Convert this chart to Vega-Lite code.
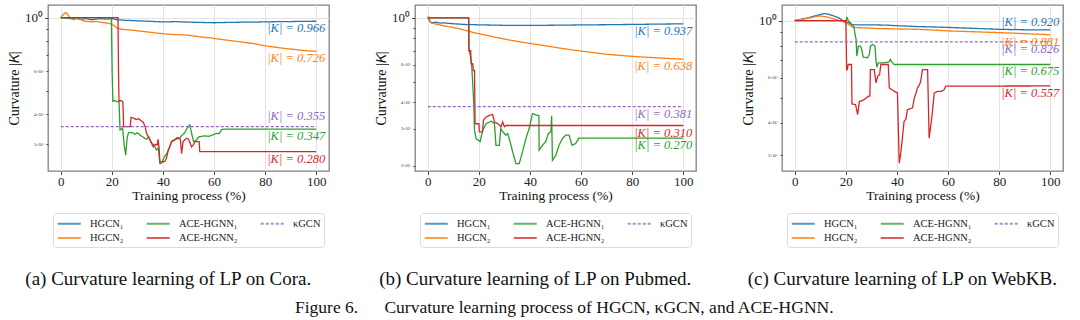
{
"$schema": "https://vega.github.io/schema/vega-lite/v6.json",
"padding": {"left": 6, "top": 4, "right": 4, "bottom": 2},
"background": "white",
"title": {"text": "Figure 6.\u2003\u2002Curvature learning process of HGCN, κGCN, and ACE-HGNN.", "orient": "bottom", "anchor": "middle", "dx": 29, "offset": 10, "fontSize": 17.5},
"datasets": {
"lines": [
{"g":"a","s":"HGCN₁","p":0,"k":1},{"g":"a","s":"HGCN₁","p":2,"k":0.995},{"g":"a","s":"HGCN₁","p":4,"k":0.99},{"g":"a","s":"HGCN₁","p":6,"k":0.995},{"g":"a","s":"HGCN₁","p":8,"k":0.985},{"g":"a","s":"HGCN₁","p":10,"k":0.99},{"g":"a","s":"HGCN₁","p":12,"k":0.98},{"g":"a","s":"HGCN₁","p":15,"k":0.99},{"g":"a","s":"HGCN₁","p":18,"k":0.985},{"g":"a","s":"HGCN₁","p":20,"k":0.99},{"g":"a","s":"HGCN₁","p":22,"k":0.98},{"g":"a","s":"HGCN₁","p":25,"k":0.975},{"g":"a","s":"HGCN₁","p":30,"k":0.97},{"g":"a","s":"HGCN₁","p":35,"k":0.965},{"g":"a","s":"HGCN₁","p":40,"k":0.96},{"g":"a","s":"HGCN₁","p":45,"k":0.962},{"g":"a","s":"HGCN₁","p":50,"k":0.958},{"g":"a","s":"HGCN₁","p":55,"k":0.955},{"g":"a","s":"HGCN₁","p":60,"k":0.952},{"g":"a","s":"HGCN₁","p":65,"k":0.955},{"g":"a","s":"HGCN₁","p":70,"k":0.957},{"g":"a","s":"HGCN₁","p":75,"k":0.958},{"g":"a","s":"HGCN₁","p":80,"k":0.96},{"g":"a","s":"HGCN₁","p":85,"k":0.962},{"g":"a","s":"HGCN₁","p":90,"k":0.963},{"g":"a","s":"HGCN₁","p":95,"k":0.965},{"g":"a","s":"HGCN₁","p":100,"k":0.966},
{"g":"a","s":"HGCN₂","p":0,"k":1},{"g":"a","s":"HGCN₂","p":1,"k":1.03},{"g":"a","s":"HGCN₂","p":2,"k":1.05},{"g":"a","s":"HGCN₂","p":3,"k":1.02},{"g":"a","s":"HGCN₂","p":4,"k":0.99},{"g":"a","s":"HGCN₂","p":5,"k":0.98},{"g":"a","s":"HGCN₂","p":6,"k":0.99},{"g":"a","s":"HGCN₂","p":7,"k":0.985},{"g":"a","s":"HGCN₂","p":8,"k":0.98},{"g":"a","s":"HGCN₂","p":9,"k":0.97},{"g":"a","s":"HGCN₂","p":10,"k":0.965},{"g":"a","s":"HGCN₂","p":12,"k":0.96},{"g":"a","s":"HGCN₂","p":14,"k":0.965},{"g":"a","s":"HGCN₂","p":16,"k":0.955},{"g":"a","s":"HGCN₂","p":18,"k":0.95},{"g":"a","s":"HGCN₂","p":20,"k":0.94},{"g":"a","s":"HGCN₂","p":21,"k":0.925},{"g":"a","s":"HGCN₂","p":22,"k":0.905},{"g":"a","s":"HGCN₂","p":24,"k":0.895},{"g":"a","s":"HGCN₂","p":26,"k":0.89},{"g":"a","s":"HGCN₂","p":28,"k":0.888},{"g":"a","s":"HGCN₂","p":30,"k":0.882},{"g":"a","s":"HGCN₂","p":32,"k":0.878},{"g":"a","s":"HGCN₂","p":34,"k":0.872},{"g":"a","s":"HGCN₂","p":36,"k":0.868},{"g":"a","s":"HGCN₂","p":38,"k":0.862},{"g":"a","s":"HGCN₂","p":40,"k":0.858},{"g":"a","s":"HGCN₂","p":42,"k":0.855},{"g":"a","s":"HGCN₂","p":44,"k":0.852},{"g":"a","s":"HGCN₂","p":46,"k":0.85},{"g":"a","s":"HGCN₂","p":48,"k":0.848},{"g":"a","s":"HGCN₂","p":50,"k":0.845},{"g":"a","s":"HGCN₂","p":52,"k":0.84},{"g":"a","s":"HGCN₂","p":54,"k":0.834},{"g":"a","s":"HGCN₂","p":56,"k":0.83},{"g":"a","s":"HGCN₂","p":58,"k":0.826},{"g":"a","s":"HGCN₂","p":60,"k":0.82},{"g":"a","s":"HGCN₂","p":62,"k":0.815},{"g":"a","s":"HGCN₂","p":64,"k":0.81},{"g":"a","s":"HGCN₂","p":66,"k":0.805},{"g":"a","s":"HGCN₂","p":68,"k":0.8},{"g":"a","s":"HGCN₂","p":70,"k":0.795},{"g":"a","s":"HGCN₂","p":72,"k":0.79},{"g":"a","s":"HGCN₂","p":74,"k":0.785},{"g":"a","s":"HGCN₂","p":76,"k":0.78},{"g":"a","s":"HGCN₂","p":78,"k":0.772},{"g":"a","s":"HGCN₂","p":80,"k":0.765},{"g":"a","s":"HGCN₂","p":82,"k":0.76},{"g":"a","s":"HGCN₂","p":84,"k":0.755},{"g":"a","s":"HGCN₂","p":86,"k":0.75},{"g":"a","s":"HGCN₂","p":88,"k":0.745},{"g":"a","s":"HGCN₂","p":90,"k":0.742},{"g":"a","s":"HGCN₂","p":92,"k":0.738},{"g":"a","s":"HGCN₂","p":94,"k":0.734},{"g":"a","s":"HGCN₂","p":96,"k":0.73},{"g":"a","s":"HGCN₂","p":98,"k":0.728},{"g":"a","s":"HGCN₂","p":100,"k":0.726},
{"g":"a","s":"ACE-HGNN₁","p":0,"k":1},{"g":"a","s":"ACE-HGNN₁","p":19.8,"k":1},{"g":"a","s":"ACE-HGNN₁","p":20.1,"k":0.6},{"g":"a","s":"ACE-HGNN₁","p":20.4,"k":0.452},{"g":"a","s":"ACE-HGNN₁","p":21,"k":0.455},{"g":"a","s":"ACE-HGNN₁","p":22,"k":0.45},{"g":"a","s":"ACE-HGNN₁","p":22.8,"k":0.452},{"g":"a","s":"ACE-HGNN₁","p":23.2,"k":0.344},{"g":"a","s":"ACE-HGNN₁","p":24.2,"k":0.35},{"g":"a","s":"ACE-HGNN₁","p":24.8,"k":0.3},{"g":"a","s":"ACE-HGNN₁","p":25.4,"k":0.271},{"g":"a","s":"ACE-HGNN₁","p":26,"k":0.32},{"g":"a","s":"ACE-HGNN₁","p":26.5,"k":0.335},{"g":"a","s":"ACE-HGNN₁","p":28,"k":0.336},{"g":"a","s":"ACE-HGNN₁","p":29,"k":0.33},{"g":"a","s":"ACE-HGNN₁","p":30,"k":0.335},{"g":"a","s":"ACE-HGNN₁","p":31.5,"k":0.325},{"g":"a","s":"ACE-HGNN₁","p":32.5,"k":0.32},{"g":"a","s":"ACE-HGNN₁","p":33.5,"k":0.315},{"g":"a","s":"ACE-HGNN₁","p":34.5,"k":0.322},{"g":"a","s":"ACE-HGNN₁","p":35.5,"k":0.305},{"g":"a","s":"ACE-HGNN₁","p":36.5,"k":0.298},{"g":"a","s":"ACE-HGNN₁","p":37.5,"k":0.284},{"g":"a","s":"ACE-HGNN₁","p":38.2,"k":0.29},{"g":"a","s":"ACE-HGNN₁","p":38.8,"k":0.25},{"g":"a","s":"ACE-HGNN₁","p":39.6,"k":0.252},{"g":"a","s":"ACE-HGNN₁","p":40.4,"k":0.265},{"g":"a","s":"ACE-HGNN₁","p":41.5,"k":0.275},{"g":"a","s":"ACE-HGNN₁","p":42.5,"k":0.29},{"g":"a","s":"ACE-HGNN₁","p":43.5,"k":0.31},{"g":"a","s":"ACE-HGNN₁","p":44.5,"k":0.313},{"g":"a","s":"ACE-HGNN₁","p":45.5,"k":0.32},{"g":"a","s":"ACE-HGNN₁","p":46.5,"k":0.319},{"g":"a","s":"ACE-HGNN₁","p":47.5,"k":0.327},{"g":"a","s":"ACE-HGNN₁","p":48.5,"k":0.335},{"g":"a","s":"ACE-HGNN₁","p":49.5,"k":0.35},{"g":"a","s":"ACE-HGNN₁","p":50.5,"k":0.361},{"g":"a","s":"ACE-HGNN₁","p":51.3,"k":0.33},{"g":"a","s":"ACE-HGNN₁","p":52,"k":0.308},{"g":"a","s":"ACE-HGNN₁","p":53,"k":0.312},{"g":"a","s":"ACE-HGNN₁","p":54,"k":0.322},{"g":"a","s":"ACE-HGNN₁","p":56,"k":0.325},{"g":"a","s":"ACE-HGNN₁","p":58,"k":0.324},{"g":"a","s":"ACE-HGNN₁","p":60,"k":0.33},{"g":"a","s":"ACE-HGNN₁","p":61,"k":0.333},{"g":"a","s":"ACE-HGNN₁","p":62,"k":0.332},{"g":"a","s":"ACE-HGNN₁","p":63,"k":0.345},{"g":"a","s":"ACE-HGNN₁","p":64,"k":0.347},{"g":"a","s":"ACE-HGNN₁","p":100,"k":0.347},
{"g":"a","s":"ACE-HGNN₂","p":0,"k":1},{"g":"a","s":"ACE-HGNN₂","p":22.4,"k":1},{"g":"a","s":"ACE-HGNN₂","p":22.6,"k":0.6},{"g":"a","s":"ACE-HGNN₂","p":22.8,"k":0.452},{"g":"a","s":"ACE-HGNN₂","p":23.6,"k":0.455},{"g":"a","s":"ACE-HGNN₂","p":24.3,"k":0.45},{"g":"a","s":"ACE-HGNN₂","p":24.6,"k":0.355},{"g":"a","s":"ACE-HGNN₂","p":27.2,"k":0.355},{"g":"a","s":"ACE-HGNN₂","p":27.5,"k":0.388},{"g":"a","s":"ACE-HGNN₂","p":28.5,"k":0.385},{"g":"a","s":"ACE-HGNN₂","p":29.5,"k":0.38},{"g":"a","s":"ACE-HGNN₂","p":30.5,"k":0.383},{"g":"a","s":"ACE-HGNN₂","p":31.5,"k":0.375},{"g":"a","s":"ACE-HGNN₂","p":32.3,"k":0.37},{"g":"a","s":"ACE-HGNN₂","p":33,"k":0.355},{"g":"a","s":"ACE-HGNN₂","p":33.6,"k":0.333},{"g":"a","s":"ACE-HGNN₂","p":34.9,"k":0.313},{"g":"a","s":"ACE-HGNN₂","p":36.2,"k":0.293},{"g":"a","s":"ACE-HGNN₂","p":37,"k":0.3},{"g":"a","s":"ACE-HGNN₂","p":37.8,"k":0.298},{"g":"a","s":"ACE-HGNN₂","p":38.1,"k":0.315},{"g":"a","s":"ACE-HGNN₂","p":38.5,"k":0.29},{"g":"a","s":"ACE-HGNN₂","p":38.8,"k":0.254},{"g":"a","s":"ACE-HGNN₂","p":40.7,"k":0.255},{"g":"a","s":"ACE-HGNN₂","p":41.3,"k":0.262},{"g":"a","s":"ACE-HGNN₂","p":42.1,"k":0.284},{"g":"a","s":"ACE-HGNN₂","p":43,"k":0.3},{"g":"a","s":"ACE-HGNN₂","p":43.4,"k":0.308},{"g":"a","s":"ACE-HGNN₂","p":44.6,"k":0.313},{"g":"a","s":"ACE-HGNN₂","p":46,"k":0.318},{"g":"a","s":"ACE-HGNN₂","p":46.8,"k":0.315},{"g":"a","s":"ACE-HGNN₂","p":47.3,"k":0.275},{"g":"a","s":"ACE-HGNN₂","p":47.9,"k":0.308},{"g":"a","s":"ACE-HGNN₂","p":49.2,"k":0.318},{"g":"a","s":"ACE-HGNN₂","p":50,"k":0.315},{"g":"a","s":"ACE-HGNN₂","p":51.2,"k":0.293},{"g":"a","s":"ACE-HGNN₂","p":52,"k":0.3},{"g":"a","s":"ACE-HGNN₂","p":52.5,"k":0.308},{"g":"a","s":"ACE-HGNN₂","p":54.2,"k":0.308},{"g":"a","s":"ACE-HGNN₂","p":54.4,"k":0.28},{"g":"a","s":"ACE-HGNN₂","p":100,"k":0.28},
{"g":"a","s":"κGCN","p":0,"k":0.355},{"g":"a","s":"κGCN","p":100,"k":0.355},
{"g":"b","s":"HGCN₁","p":0,"k":1},{"g":"b","s":"HGCN₁","p":0.5,"k":0.98},{"g":"b","s":"HGCN₁","p":1,"k":0.955},{"g":"b","s":"HGCN₁","p":1.5,"k":0.945},{"g":"b","s":"HGCN₁","p":2,"k":0.952},{"g":"b","s":"HGCN₁","p":2.5,"k":0.948},{"g":"b","s":"HGCN₁","p":3,"k":0.955},{"g":"b","s":"HGCN₁","p":4,"k":0.948},{"g":"b","s":"HGCN₁","p":5,"k":0.945},{"g":"b","s":"HGCN₁","p":6,"k":0.947},{"g":"b","s":"HGCN₁","p":8,"k":0.942},{"g":"b","s":"HGCN₁","p":10,"k":0.938},{"g":"b","s":"HGCN₁","p":15,"k":0.93},{"g":"b","s":"HGCN₁","p":20,"k":0.927},{"g":"b","s":"HGCN₁","p":30,"k":0.922},{"g":"b","s":"HGCN₁","p":40,"k":0.921},{"g":"b","s":"HGCN₁","p":50,"k":0.923},{"g":"b","s":"HGCN₁","p":60,"k":0.926},{"g":"b","s":"HGCN₁","p":70,"k":0.928},{"g":"b","s":"HGCN₁","p":80,"k":0.931},{"g":"b","s":"HGCN₁","p":90,"k":0.934},{"g":"b","s":"HGCN₁","p":100,"k":0.937},
{"g":"b","s":"HGCN₂","p":0,"k":1.02},{"g":"b","s":"HGCN₂","p":0.5,"k":1},{"g":"b","s":"HGCN₂","p":1,"k":0.96},{"g":"b","s":"HGCN₂","p":1.5,"k":0.95},{"g":"b","s":"HGCN₂","p":2,"k":0.94},{"g":"b","s":"HGCN₂","p":2.5,"k":0.945},{"g":"b","s":"HGCN₂","p":3,"k":0.935},{"g":"b","s":"HGCN₂","p":4,"k":0.93},{"g":"b","s":"HGCN₂","p":5,"k":0.925},{"g":"b","s":"HGCN₂","p":6,"k":0.918},{"g":"b","s":"HGCN₂","p":8,"k":0.91},{"g":"b","s":"HGCN₂","p":10,"k":0.9},{"g":"b","s":"HGCN₂","p":12,"k":0.89},{"g":"b","s":"HGCN₂","p":14,"k":0.878},{"g":"b","s":"HGCN₂","p":16,"k":0.865},{"g":"b","s":"HGCN₂","p":18,"k":0.852},{"g":"b","s":"HGCN₂","p":20,"k":0.842},{"g":"b","s":"HGCN₂","p":22,"k":0.832},{"g":"b","s":"HGCN₂","p":24,"k":0.822},{"g":"b","s":"HGCN₂","p":26,"k":0.812},{"g":"b","s":"HGCN₂","p":28,"k":0.803},{"g":"b","s":"HGCN₂","p":30,"k":0.794},{"g":"b","s":"HGCN₂","p":32,"k":0.785},{"g":"b","s":"HGCN₂","p":35,"k":0.774},{"g":"b","s":"HGCN₂","p":38,"k":0.764},{"g":"b","s":"HGCN₂","p":41,"k":0.754},{"g":"b","s":"HGCN₂","p":44,"k":0.745},{"g":"b","s":"HGCN₂","p":47,"k":0.735},{"g":"b","s":"HGCN₂","p":50,"k":0.725},{"g":"b","s":"HGCN₂","p":53,"k":0.716},{"g":"b","s":"HGCN₂","p":56,"k":0.707},{"g":"b","s":"HGCN₂","p":60,"k":0.697},{"g":"b","s":"HGCN₂","p":65,"k":0.685},{"g":"b","s":"HGCN₂","p":70,"k":0.673},{"g":"b","s":"HGCN₂","p":75,"k":0.665},{"g":"b","s":"HGCN₂","p":80,"k":0.658},{"g":"b","s":"HGCN₂","p":85,"k":0.652},{"g":"b","s":"HGCN₂","p":90,"k":0.647},{"g":"b","s":"HGCN₂","p":95,"k":0.642},{"g":"b","s":"HGCN₂","p":100,"k":0.638},
{"g":"b","s":"ACE-HGNN₁","p":0,"k":1},{"g":"b","s":"ACE-HGNN₁","p":16,"k":1},{"g":"b","s":"ACE-HGNN₁","p":16.2,"k":0.7},{"g":"b","s":"ACE-HGNN₁","p":16.8,"k":0.65},{"g":"b","s":"ACE-HGNN₁","p":17.2,"k":0.595},{"g":"b","s":"ACE-HGNN₁","p":17.6,"k":0.488},{"g":"b","s":"ACE-HGNN₁","p":18,"k":0.393},{"g":"b","s":"ACE-HGNN₁","p":18.3,"k":0.294},{"g":"b","s":"ACE-HGNN₁","p":18.9,"k":0.269},{"g":"b","s":"ACE-HGNN₁","p":20.5,"k":0.26},{"g":"b","s":"ACE-HGNN₁","p":21.5,"k":0.294},{"g":"b","s":"ACE-HGNN₁","p":22.8,"k":0.316},{"g":"b","s":"ACE-HGNN₁","p":24.8,"k":0.325},{"g":"b","s":"ACE-HGNN₁","p":26.1,"k":0.316},{"g":"b","s":"ACE-HGNN₁","p":26.7,"k":0.25},{"g":"b","s":"ACE-HGNN₁","p":28,"k":0.25},{"g":"b","s":"ACE-HGNN₁","p":28.6,"k":0.3},{"g":"b","s":"ACE-HGNN₁","p":29.3,"k":0.29},{"g":"b","s":"ACE-HGNN₁","p":30.6,"k":0.279},{"g":"b","s":"ACE-HGNN₁","p":31.3,"k":0.284},{"g":"b","s":"ACE-HGNN₁","p":32.6,"k":0.25},{"g":"b","s":"ACE-HGNN₁","p":33.2,"k":0.233},{"g":"b","s":"ACE-HGNN₁","p":34.5,"k":0.205},{"g":"b","s":"ACE-HGNN₁","p":35.8,"k":0.205},{"g":"b","s":"ACE-HGNN₁","p":37.1,"k":0.233},{"g":"b","s":"ACE-HGNN₁","p":38.4,"k":0.269},{"g":"b","s":"ACE-HGNN₁","p":39.7,"k":0.3},{"g":"b","s":"ACE-HGNN₁","p":41,"k":0.353},{"g":"b","s":"ACE-HGNN₁","p":42.9,"k":0.346},{"g":"b","s":"ACE-HGNN₁","p":43.5,"k":0.346},{"g":"b","s":"ACE-HGNN₁","p":43.6,"k":0.237},{"g":"b","s":"ACE-HGNN₁","p":44.9,"k":0.25},{"g":"b","s":"ACE-HGNN₁","p":46.2,"k":0.26},{"g":"b","s":"ACE-HGNN₁","p":47.2,"k":0.284},{"g":"b","s":"ACE-HGNN₁","p":48.2,"k":0.29},{"g":"b","s":"ACE-HGNN₁","p":48.5,"k":0.345},{"g":"b","s":"ACE-HGNN₁","p":48.8,"k":0.212},{"g":"b","s":"ACE-HGNN₁","p":50.1,"k":0.224},{"g":"b","s":"ACE-HGNN₁","p":51.4,"k":0.25},{"g":"b","s":"ACE-HGNN₁","p":52.7,"k":0.269},{"g":"b","s":"ACE-HGNN₁","p":54,"k":0.279},{"g":"b","s":"ACE-HGNN₁","p":55.3,"k":0.279},{"g":"b","s":"ACE-HGNN₁","p":56.5,"k":0.25},{"g":"b","s":"ACE-HGNN₁","p":57.9,"k":0.255},{"g":"b","s":"ACE-HGNN₁","p":59.1,"k":0.27},{"g":"b","s":"ACE-HGNN₁","p":100,"k":0.27},
{"g":"b","s":"ACE-HGNN₂","p":0,"k":1},{"g":"b","s":"ACE-HGNN₂","p":16,"k":1},{"g":"b","s":"ACE-HGNN₂","p":16.1,"k":0.7},{"g":"b","s":"ACE-HGNN₂","p":16.8,"k":0.7},{"g":"b","s":"ACE-HGNN₂","p":17,"k":0.607},{"g":"b","s":"ACE-HGNN₂","p":17.6,"k":0.607},{"g":"b","s":"ACE-HGNN₂","p":17.8,"k":0.564},{"g":"b","s":"ACE-HGNN₂","p":18.3,"k":0.564},{"g":"b","s":"ACE-HGNN₂","p":18.5,"k":0.316},{"g":"b","s":"ACE-HGNN₂","p":20,"k":0.316},{"g":"b","s":"ACE-HGNN₂","p":20.2,"k":0.289},{"g":"b","s":"ACE-HGNN₂","p":21.4,"k":0.289},{"g":"b","s":"ACE-HGNN₂","p":21.8,"k":0.328},{"g":"b","s":"ACE-HGNN₂","p":22.8,"k":0.34},{"g":"b","s":"ACE-HGNN₂","p":24.1,"k":0.346},{"g":"b","s":"ACE-HGNN₂","p":25.4,"k":0.349},{"g":"b","s":"ACE-HGNN₂","p":26.1,"k":0.322},{"g":"b","s":"ACE-HGNN₂","p":27.4,"k":0.316},{"g":"b","s":"ACE-HGNN₂","p":28.7,"k":0.306},{"g":"b","s":"ACE-HGNN₂","p":29.3,"k":0.322},{"g":"b","s":"ACE-HGNN₂","p":30,"k":0.306},{"g":"b","s":"ACE-HGNN₂","p":30.6,"k":0.31},{"g":"b","s":"ACE-HGNN₂","p":100,"k":0.31},
{"g":"b","s":"κGCN","p":0,"k":0.381},{"g":"b","s":"κGCN","p":100,"k":0.381},
{"g":"c","s":"HGCN₁","p":0,"k":1},{"g":"c","s":"HGCN₁","p":3,"k":1.015},{"g":"c","s":"HGCN₁","p":6,"k":1.03},{"g":"c","s":"HGCN₁","p":9,"k":1.05},{"g":"c","s":"HGCN₁","p":11.5,"k":1.065},{"g":"c","s":"HGCN₁","p":13,"k":1.06},{"g":"c","s":"HGCN₁","p":15,"k":1.045},{"g":"c","s":"HGCN₁","p":17,"k":1.027},{"g":"c","s":"HGCN₁","p":19,"k":1},{"g":"c","s":"HGCN₁","p":21,"k":0.982},{"g":"c","s":"HGCN₁","p":22.5,"k":0.965},{"g":"c","s":"HGCN₁","p":24,"k":0.962},{"g":"c","s":"HGCN₁","p":28,"k":0.962},{"g":"c","s":"HGCN₁","p":32,"k":0.962},{"g":"c","s":"HGCN₁","p":36,"k":0.96},{"g":"c","s":"HGCN₁","p":40,"k":0.955},{"g":"c","s":"HGCN₁","p":44,"k":0.952},{"g":"c","s":"HGCN₁","p":48,"k":0.948},{"g":"c","s":"HGCN₁","p":55,"k":0.944},{"g":"c","s":"HGCN₁","p":61,"k":0.94},{"g":"c","s":"HGCN₁","p":70,"k":0.933},{"g":"c","s":"HGCN₁","p":80,"k":0.925},{"g":"c","s":"HGCN₁","p":90,"k":0.921},{"g":"c","s":"HGCN₁","p":100,"k":0.92},
{"g":"c","s":"HGCN₂","p":0,"k":1},{"g":"c","s":"HGCN₂","p":3,"k":1.012},{"g":"c","s":"HGCN₂","p":6,"k":1.025},{"g":"c","s":"HGCN₂","p":9.5,"k":1.043},{"g":"c","s":"HGCN₂","p":12,"k":1.035},{"g":"c","s":"HGCN₂","p":15,"k":1.018},{"g":"c","s":"HGCN₂","p":18,"k":0.997},{"g":"c","s":"HGCN₂","p":20,"k":0.98},{"g":"c","s":"HGCN₂","p":21,"k":0.968},{"g":"c","s":"HGCN₂","p":22.5,"k":0.945},{"g":"c","s":"HGCN₂","p":24,"k":0.939},{"g":"c","s":"HGCN₂","p":28,"k":0.936},{"g":"c","s":"HGCN₂","p":32,"k":0.932},{"g":"c","s":"HGCN₂","p":40,"k":0.928},{"g":"c","s":"HGCN₂","p":48,"k":0.925},{"g":"c","s":"HGCN₂","p":55,"k":0.918},{"g":"c","s":"HGCN₂","p":61,"k":0.911},{"g":"c","s":"HGCN₂","p":70,"k":0.905},{"g":"c","s":"HGCN₂","p":80,"k":0.898},{"g":"c","s":"HGCN₂","p":90,"k":0.89},{"g":"c","s":"HGCN₂","p":100,"k":0.881},
{"g":"c","s":"ACE-HGNN₁","p":0,"k":1},{"g":"c","s":"ACE-HGNN₁","p":20.2,"k":1},{"g":"c","s":"ACE-HGNN₁","p":20.4,"k":1.034},{"g":"c","s":"ACE-HGNN₁","p":21,"k":0.997},{"g":"c","s":"ACE-HGNN₁","p":21.7,"k":0.982},{"g":"c","s":"ACE-HGNN₁","p":22.7,"k":0.953},{"g":"c","s":"ACE-HGNN₁","p":23.2,"k":0.939},{"g":"c","s":"ACE-HGNN₁","p":23.6,"k":0.884},{"g":"c","s":"ACE-HGNN₁","p":24,"k":0.845},{"g":"c","s":"ACE-HGNN₁","p":24.3,"k":0.728},{"g":"c","s":"ACE-HGNN₁","p":24.9,"k":0.796},{"g":"c","s":"ACE-HGNN₁","p":25.7,"k":0.796},{"g":"c","s":"ACE-HGNN₁","p":26.2,"k":0.773},{"g":"c","s":"ACE-HGNN₁","p":26.8,"k":0.721},{"g":"c","s":"ACE-HGNN₁","p":28.5,"k":0.717},{"g":"c","s":"ACE-HGNN₁","p":29.2,"k":0.739},{"g":"c","s":"ACE-HGNN₁","p":29.6,"k":0.796},{"g":"c","s":"ACE-HGNN₁","p":30.5,"k":0.808},{"g":"c","s":"ACE-HGNN₁","p":31.4,"k":0.796},{"g":"c","s":"ACE-HGNN₁","p":31.8,"k":0.696},{"g":"c","s":"ACE-HGNN₁","p":32.2,"k":0.659},{"g":"c","s":"ACE-HGNN₁","p":32.7,"k":0.685},{"g":"c","s":"ACE-HGNN₁","p":35,"k":0.685},{"g":"c","s":"ACE-HGNN₁","p":37,"k":0.692},{"g":"c","s":"ACE-HGNN₁","p":37.4,"k":0.706},{"g":"c","s":"ACE-HGNN₁","p":37.9,"k":0.692},{"g":"c","s":"ACE-HGNN₁","p":38.9,"k":0.675},{"g":"c","s":"ACE-HGNN₁","p":100,"k":0.675},
{"g":"c","s":"ACE-HGNN₂","p":0,"k":1},{"g":"c","s":"ACE-HGNN₂","p":20,"k":1},{"g":"c","s":"ACE-HGNN₂","p":20.3,"k":0.645},{"g":"c","s":"ACE-HGNN₂","p":20.6,"k":0.645},{"g":"c","s":"ACE-HGNN₂","p":20.9,"k":0.675},{"g":"c","s":"ACE-HGNN₂","p":22.2,"k":0.675},{"g":"c","s":"ACE-HGNN₂","p":22.4,"k":0.474},{"g":"c","s":"ACE-HGNN₂","p":23.8,"k":0.471},{"g":"c","s":"ACE-HGNN₂","p":24.6,"k":0.431},{"g":"c","s":"ACE-HGNN₂","p":25.3,"k":0.486},{"g":"c","s":"ACE-HGNN₂","p":26,"k":0.486},{"g":"c","s":"ACE-HGNN₂","p":27.2,"k":0.493},{"g":"c","s":"ACE-HGNN₂","p":28.8,"k":0.508},{"g":"c","s":"ACE-HGNN₂","p":29.4,"k":0.508},{"g":"c","s":"ACE-HGNN₂","p":29.6,"k":0.645},{"g":"c","s":"ACE-HGNN₂","p":31.1,"k":0.645},{"g":"c","s":"ACE-HGNN₂","p":31.8,"k":0.573},{"g":"c","s":"ACE-HGNN₂","p":32.5,"k":0.608},{"g":"c","s":"ACE-HGNN₂","p":33.2,"k":0.617},{"g":"c","s":"ACE-HGNN₂","p":33.7,"k":0.675},{"g":"c","s":"ACE-HGNN₂","p":36.6,"k":0.675},{"g":"c","s":"ACE-HGNN₂","p":37,"k":0.547},{"g":"c","s":"ACE-HGNN₂","p":38,"k":0.539},{"g":"c","s":"ACE-HGNN₂","p":39,"k":0.531},{"g":"c","s":"ACE-HGNN₂","p":40.2,"k":0.523},{"g":"c","s":"ACE-HGNN₂","p":40.9,"k":0.279},{"g":"c","s":"ACE-HGNN₂","p":41.5,"k":0.305},{"g":"c","s":"ACE-HGNN₂","p":42.8,"k":0.406},{"g":"c","s":"ACE-HGNN₂","p":43.5,"k":0.413},{"g":"c","s":"ACE-HGNN₂","p":44.1,"k":0.45},{"g":"c","s":"ACE-HGNN₂","p":46.1,"k":0.458},{"g":"c","s":"ACE-HGNN₂","p":46.8,"k":0.5},{"g":"c","s":"ACE-HGNN₂","p":47.5,"k":0.523},{"g":"c","s":"ACE-HGNN₂","p":48,"k":0.547},{"g":"c","s":"ACE-HGNN₂","p":48.5,"k":0.556},{"g":"c","s":"ACE-HGNN₂","p":49.2,"k":0.575},{"g":"c","s":"ACE-HGNN₂","p":50,"k":0.645},{"g":"c","s":"ACE-HGNN₂","p":52,"k":0.645},{"g":"c","s":"ACE-HGNN₂","p":52.6,"k":0.349},{"g":"c","s":"ACE-HGNN₂","p":53.3,"k":0.394},{"g":"c","s":"ACE-HGNN₂","p":53.9,"k":0.443},{"g":"c","s":"ACE-HGNN₂","p":54.6,"k":0.523},{"g":"c","s":"ACE-HGNN₂","p":56,"k":0.531},{"g":"c","s":"ACE-HGNN₂","p":57.5,"k":0.531},{"g":"c","s":"ACE-HGNN₂","p":58.5,"k":0.539},{"g":"c","s":"ACE-HGNN₂","p":59.1,"k":0.556},{"g":"c","s":"ACE-HGNN₂","p":100,"k":0.557},
{"g":"c","s":"κGCN","p":0,"k":0.826},{"g":"c","s":"κGCN","p":100,"k":0.826}
],
"ann": [
{"g":"a","s":"HGCN₁","k":0.966,"t":"|K| = 0.966"},{"g":"a","s":"HGCN₂","k":0.726,"t":"|K| = 0.726"},{"g":"a","s":"κGCN","k":0.355,"t":"|K| = 0.355"},{"g":"a","s":"ACE-HGNN₁","k":0.347,"t":"|K| = 0.347"},{"g":"a","s":"ACE-HGNN₂","k":0.28,"t":"|K| = 0.280"},
{"g":"b","s":"HGCN₁","k":0.937,"t":"|K| = 0.937"},{"g":"b","s":"HGCN₂","k":0.638,"t":"|K| = 0.638"},{"g":"b","s":"κGCN","k":0.381,"t":"|K| = 0.381"},{"g":"b","s":"ACE-HGNN₂","k":0.31,"t":"|K| = 0.310"},{"g":"b","s":"ACE-HGNN₁","k":0.27,"t":"|K| = 0.270"},
{"g":"c","s":"HGCN₁","k":0.92,"t":"|K| = 0.920"},{"g":"c","s":"HGCN₂","k":0.881,"t":"|K| = 0.881"},{"g":"c","s":"κGCN","k":0.826,"t":"|K| = 0.826"},{"g":"c","s":"ACE-HGNN₁","k":0.675,"t":"|K| = 0.675"},{"g":"c","s":"ACE-HGNN₂","k":0.557,"t":"|K| = 0.557"}
]
},
"bounds": "flush",
"spacing": 86,
"hconcat": [
{
"width": 281, "height": 166,
"title": {"text": "(a) Curvature learning of LP on Cora.", "orient": "bottom", "anchor": "middle", "frame": "bounds", "offset": 22},
"layer": [
{"data": {"name": "lines"}, "transform": [{"filter": "datum.g == 'a'"}],
 "mark": {"type": "line", "strokeWidth": 1.3, "clip": true},
 "encoding": {
  "x": {"field": "p", "type": "quantitative", "scale": {"domain": [-5, 105], "nice": false, "zero": false}, "axis": {"values": [0,20,40,60,80,100], "title": "Training process (%)"}},
  "y": {"field": "k", "type": "quantitative", "scale": {"type": "log", "domain": [0.233, 1.127], "nice": false}, "axis": {"values": [0.3,0.4,0.5,0.6,0.7,0.8,0.9,1], "labelExpr": "datum.value == 1 ? '10⁰' : (indexof([0.3,0.4,0.6], datum.value) >= 0 ? round(datum.value*10) + '×10⁻¹' : '')", "labelFontSize": {"condition": {"test": "datum.value == 1", "value": 13}, "value": 4}, "tickSize": {"condition": {"test": "datum.value == 1", "value": 3.5}, "value": 2}, "gridOpacity": {"condition": {"test": "datum.value == 1", "value": 1}, "value": 0}, "title": "Curvature |𝐾|"}},
  "color": {"field": "s", "type": "nominal", "scale": {"domain": ["HGCN₁","ACE-HGNN₁","κGCN","HGCN₂","ACE-HGNN₂"], "range": ["#1f77b4","#2ca02c","#9467bd","#ff7f0e","#d62728"]}, "legend": {"title": null}},
  "strokeDash": {"field": "s", "type": "nominal", "scale": {"domain": ["HGCN₁","ACE-HGNN₁","κGCN","HGCN₂","ACE-HGNN₂"], "range": [[1,0],[1,0],[3,2],[1,0],[1,0]]}, "legend": {"title": null}}
 }},
{"data": {"name": "ann"}, "transform": [{"filter": "datum.g == 'a' && datum.s != 'κGCN'"}],
 "mark": {"type": "text", "align": "left", "baseline": "middle", "dx": 2, "dy": 7, "font": "Liberation Serif", "fontStyle": "italic", "fontSize": 12.5},
 "encoding": {"x": {"datum": 80, "type": "quantitative"}, "y": {"field": "k", "type": "quantitative"}, "text": {"field": "t"}, "color": {"field": "s", "type": "nominal"}}},
{"data": {"name": "ann"}, "transform": [{"filter": "datum.g == 'a' && datum.s == 'κGCN'"}],
 "mark": {"type": "text", "align": "left", "baseline": "middle", "dx": 2, "dy": -11, "font": "Liberation Serif", "fontStyle": "italic", "fontSize": 12.5},
 "encoding": {"x": {"datum": 80, "type": "quantitative"}, "y": {"field": "k", "type": "quantitative"}, "text": {"field": "t"}, "color": {"field": "s", "type": "nominal"}}}
]
},
{
"width": 281, "height": 166,
"title": {"text": "(b) Curvature learning of LP on Pubmed.", "orient": "bottom", "anchor": "middle", "frame": "bounds", "offset": 22},
"layer": [
{"data": {"name": "lines"}, "transform": [{"filter": "datum.g == 'b'"}],
 "mark": {"type": "line", "strokeWidth": 1.3, "clip": true},
 "encoding": {
  "x": {"field": "p", "type": "quantitative", "scale": {"domain": [-5, 105], "nice": false, "zero": false}, "axis": {"values": [0,20,40,60,80,100], "title": "Training process (%)"}},
  "y": {"field": "k", "type": "quantitative", "scale": {"type": "log", "domain": [0.189, 1.15], "nice": false}, "axis": {"values": [0.2,0.3,0.4,0.5,0.6,0.7,0.8,0.9,1], "labelExpr": "datum.value == 1 ? '10⁰' : (indexof([0.2,0.3,0.4,0.6], datum.value) >= 0 ? round(datum.value*10) + '×10⁻¹' : '')", "labelFontSize": {"condition": {"test": "datum.value == 1", "value": 13}, "value": 4}, "tickSize": {"condition": {"test": "datum.value == 1", "value": 3.5}, "value": 2}, "gridOpacity": {"condition": {"test": "datum.value == 1", "value": 1}, "value": 0}, "title": "Curvature |𝐾|"}},
  "color": {"field": "s", "type": "nominal", "scale": {"domain": ["HGCN₁","ACE-HGNN₁","κGCN","HGCN₂","ACE-HGNN₂"], "range": ["#1f77b4","#2ca02c","#9467bd","#ff7f0e","#d62728"]}, "legend": {"title": null}},
  "strokeDash": {"field": "s", "type": "nominal", "scale": {"domain": ["HGCN₁","ACE-HGNN₁","κGCN","HGCN₂","ACE-HGNN₂"], "range": [[1,0],[1,0],[3,2],[1,0],[1,0]]}, "legend": {"title": null}}
 }},
{"data": {"name": "ann"}, "transform": [{"filter": "datum.g == 'b'"}],
 "mark": {"type": "text", "align": "left", "baseline": "middle", "dx": 2, "dy": 7, "font": "Liberation Serif", "fontStyle": "italic", "fontSize": 12.5},
 "encoding": {"x": {"datum": 80, "type": "quantitative"}, "y": {"field": "k", "type": "quantitative"}, "text": {"field": "t"}, "color": {"field": "s", "type": "nominal"}}}
]
},
{
"width": 281, "height": 166,
"title": {"text": "(c) Curvature learning of LP on WebKB.", "orient": "bottom", "anchor": "middle", "frame": "bounds", "offset": 22},
"layer": [
{"data": {"name": "lines"}, "transform": [{"filter": "datum.g == 'c'"}],
 "mark": {"type": "line", "strokeWidth": 1.3, "clip": true},
 "encoding": {
  "x": {"field": "p", "type": "quantitative", "scale": {"domain": [-5, 105], "nice": false, "zero": false}, "axis": {"values": [0,20,40,60,80,100], "title": "Training process (%)"}},
  "y": {"field": "k", "type": "quantitative", "scale": {"type": "log", "domain": [0.26, 1.15], "nice": false}, "axis": {"values": [0.3,0.4,0.5,0.6,0.7,0.8,0.9,1], "labelExpr": "datum.value == 1 ? '10⁰' : (indexof([0.3,0.4,0.6], datum.value) >= 0 ? round(datum.value*10) + '×10⁻¹' : '')", "labelFontSize": {"condition": {"test": "datum.value == 1", "value": 13}, "value": 4}, "tickSize": {"condition": {"test": "datum.value == 1", "value": 3.5}, "value": 2}, "gridOpacity": {"condition": {"test": "datum.value == 1", "value": 1}, "value": 0}, "title": "Curvature |𝐾|"}},
  "color": {"field": "s", "type": "nominal", "scale": {"domain": ["HGCN₁","ACE-HGNN₁","κGCN","HGCN₂","ACE-HGNN₂"], "range": ["#1f77b4","#2ca02c","#9467bd","#ff7f0e","#d62728"]}, "legend": {"title": null}},
  "strokeDash": {"field": "s", "type": "nominal", "scale": {"domain": ["HGCN₁","ACE-HGNN₁","κGCN","HGCN₂","ACE-HGNN₂"], "range": [[1,0],[1,0],[3,2],[1,0],[1,0]]}, "legend": {"title": null}}
 }},
{"data": {"name": "ann"}, "transform": [{"filter": "datum.g == 'c' && datum.s != 'HGCN₁'"}],
 "mark": {"type": "text", "align": "left", "baseline": "middle", "dx": 2, "dy": 7, "font": "Liberation Serif", "fontStyle": "italic", "fontSize": 12.5},
 "encoding": {"x": {"datum": 80, "type": "quantitative"}, "y": {"field": "k", "type": "quantitative"}, "text": {"field": "t"}, "color": {"field": "s", "type": "nominal"}}},
{"data": {"name": "ann"}, "transform": [{"filter": "datum.g == 'c' && datum.s == 'HGCN₁'"}],
 "mark": {"type": "text", "align": "left", "baseline": "middle", "dx": 2, "dy": -8, "font": "Liberation Serif", "fontStyle": "italic", "fontSize": 12.5},
 "encoding": {"x": {"datum": 80, "type": "quantitative"}, "y": {"field": "k", "type": "quantitative"}, "text": {"field": "t"}, "color": {"field": "s", "type": "nominal"}}}
]
}
],
"resolve": {"scale": {"color": "independent", "strokeDash": "independent", "x": "independent", "y": "independent"}, "legend": {"color": "independent", "strokeDash": "independent"}},
"config": {
 "font": "Liberation Serif",
 "view": {"stroke": "#808080", "strokeWidth": 1.3},
 "axis": {"labelFont": "Liberation Serif", "titleFont": "Liberation Serif", "labelColor": "#222", "titleColor": "#111", "titleFontWeight": "normal", "domain": false, "tickColor": "#444", "gridColor": "#e3e3e3", "gridWidth": 1},
 "axisX": {"labelFontSize": 13, "titleFontSize": 13.5, "tickSize": 3.5, "labelPadding": 1, "titlePadding": 0, "grid": true, "labelAngle": 0},
 "axisY": {"titleFontSize": 14, "labelPadding": 2, "titlePadding": 3},
 "legend": {"orient": "bottom", "columns": 3, "symbolType": "M-1,0H3", "symbolSize": 132, "symbolStrokeWidth": 1.8, "symbolOpacity": 0.75, "labelFont": "Liberation Serif", "labelFontSize": 10.5, "labelColor": "#222", "columnPadding": 19, "rowPadding": 1.5, "padding": 3.5, "strokeColor": "#dcdcdc", "cornerRadius": 3, "offset": 11, "labelOffset": 19.5, "layout": {"bottom": {"anchor": "middle"}, "anchor": "middle"}},
 "title": {"font": "Liberation Serif", "fontWeight": "normal", "fontSize": 19, "color": "#111"}
}
}
